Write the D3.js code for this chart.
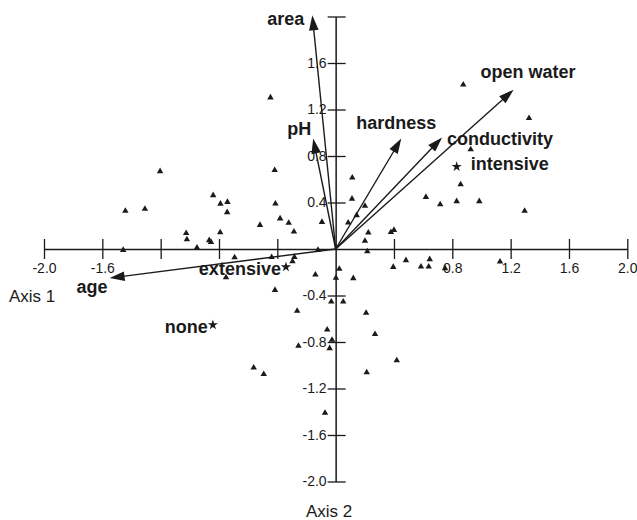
<!DOCTYPE html>
<html>
<head>
<meta charset="utf-8">
<script src="https://cdn.jsdelivr.net/npm/d3@7"></script>
<style>
    body { margin: 0; background: #fff; }
    svg text { font-family: Arial, "Liberation Sans", sans-serif; fill: #1a1a1a; }
</style>
</head>
<body>
<svg id="chart" width="637" height="520"></svg>
<script>
// site scores (axis 1, axis 2)
const siteX = [
    -1.204, -1.442, -1.308, -1.457, -1.025, -1.020, -0.951, -0.867, -0.855, -0.840,
    -0.790, -0.742, -0.744, -0.792, -0.447, -0.418, -0.413, -0.519, -0.381, -0.322,
    -0.286, -0.094, -0.693, -0.439, -0.283, -0.296, -0.121, -0.752, -0.139, 0.002,
    -0.416, -0.030, -0.264, -0.058, -0.025, -0.041, -0.255, -0.562, -0.493, -0.073,
    0.213, 0.419, 0.270, 0.209, 0.052, 0.025, 0.121, 0.395, 0.482, 0.585,
    0.638, 0.645, 0.750, 1.127, 0.217, 0.201, 0.224, 0.379, 0.400, 0.086,
    0.144, 0.201, 0.112, 0.114, 0.619, 0.717, 0.830, 0.857, 0.985, 1.296,
    0.875, 1.326, 0.926
];
const siteY = [
    0.668, 0.328, 0.344, -0.009, 0.136, 0.083, 0.011, 0.075, 0.060, 0.462,
    0.389, 0.404, 0.316, 0.142, 1.303, 0.678, 0.390, 0.206, 0.262, 0.224,
    0.149, 0.232, -0.073, -0.071, -0.069, -0.107, -0.009, -0.245, -0.221, -0.249,
    -0.353, -0.453, -0.533, -0.694, -0.782, -0.854, -0.834, -1.021, -1.077, -1.410,
    -1.062, -0.959, -0.733, -0.550, -0.453, -0.172, -0.252, -0.155, -0.097, -0.152,
    -0.152, -0.089, -0.166, -0.109, -0.021, 0.069, 0.140, 0.144, 0.163, 0.226,
    0.290, 0.370, 0.432, 0.613, 0.447, 0.384, 0.410, 0.556, 0.410, 0.327,
    1.413, 1.126, 0.857
];

// management centroids
const groupNames = ["intensive", "extensive", "none"];
const groupX = [0.830, -0.341, -0.842];
const groupY = [0.708, -0.155, -0.653];

// environmental vectors
const vectorNames = ["area", "pH", "hardness", "conductivity", "open water", "age"];
const vectorX = [-0.16, -0.154, 0.45, 0.73, 1.22, -1.55];
const vectorY = [2.01, 0.95, 0.95, 0.96, 1.37, -0.25];

const xTicks = [-2.0, -1.6, -1.2, -0.8, -0.4, 0.4, 0.8, 1.2, 1.6, 2.0];
const xTickLabels = ["-2.0", "-1.6", "", "", "", "", "0.8", "1.2", "1.6", "2.0"];
const yTicks = [2.0, 1.6, 1.2, 0.8, 0.4, -0.4, -0.8, -1.2, -1.6, -2.0];
const yTickLabels = ["", "1.6", "1.2", "0.8", "0.4", "-0.4", "-0.8", "-1.2", "-1.6", "-2.0"];

const svg = d3.select("#chart");
const ink = "#1a1a1a";

const x = d3.scaleLinear().domain([-2, 2]).range([44, 627.3]);
const y = d3.scaleLinear().domain([-2, 2]).range([481.5, 16.5]);

// label placement in px, relative to the end of each vector
const vectorLabelPos = {
    "area": [-45, 10],
    "pH": [-26, -4],
    "hardness": [-45, -10],
    "conductivity": [5, 8],
    "open water": [-33, -12],
    "age": [-33, 15],
};

// axis 1
const xAxis = svg.append("g")
    .attr("transform", `translate(0,${y(0)})`)
    .call(
        d3.axisBottom(x)
            .tickValues(xTicks)
            .tickFormat((d, i) => xTickLabels[i])
            .tickSizeOuter(0)
    );
xAxis.select(".domain").attr("stroke", ink).attr("stroke-width", 1.5);
xAxis.selectAll(".tick line").attr("y1", -10).attr("y2", 10).attr("stroke", ink).attr("stroke-width", 1.3);
xAxis.selectAll(".tick text")
    .attr("y", 14)
    .style("font-size", "14px")
    .style("font-family", "Arial, 'Liberation Sans', sans-serif")
    .attr("fill", ink);

// axis 2
const yAxis = svg.append("g")
    .attr("transform", `translate(${x(0)},0)`)
    .call(
        d3.axisLeft(y)
            .tickValues(yTicks)
            .tickFormat((d, i) => yTickLabels[i])
            .tickSizeOuter(0)
    );
yAxis.select(".domain").attr("stroke", ink).attr("stroke-width", 1.5);
yAxis.selectAll(".tick line").attr("x1", -8).attr("x2", 10).attr("stroke", ink).attr("stroke-width", 1.3);
yAxis.selectAll(".tick text")
    .attr("x", -9)
    .style("font-size", "14px")
    .style("font-family", "Arial, 'Liberation Sans', sans-serif")
    .attr("fill", ink);

svg.append("text").attr("x", 9).attr("y", 301.5).style("font-size", "17px").text("Axis 1");
svg.append("text").attr("x", 306).attr("y", 516.5).style("font-size", "17px").text("Axis 2");

// sites
svg.append("g")
    .selectAll("path")
    .data(d3.range(siteX.length))
    .join("path")
    .attr("d", d3.symbol(d3.symbolTriangle, 18))
    .attr("transform", (i) => `translate(${x(siteX[i])},${y(siteY[i])})`)
    .attr("fill", ink);

// vectors
const vectors = vectorNames.map((name, i) => ({
    name: name,
    x1: x(0),
    y1: y(0),
    x2: x(vectorX[i]),
    y2: y(vectorY[i]),
}));

const headLen = 15;
const headHalf = 4.8;
const gVec = svg.append("g");

gVec.selectAll("line")
    .data(vectors)
    .join("line")
    .attr("x1", (d) => d.x1)
    .attr("y1", (d) => d.y1)
    .attr("x2", (d) => {
        const len = Math.hypot(d.x2 - d.x1, d.y2 - d.y1);
        return d.x2 - ((d.x2 - d.x1) / len) * (headLen - 2);
    })
    .attr("y2", (d) => {
        const len = Math.hypot(d.x2 - d.x1, d.y2 - d.y1);
        return d.y2 - ((d.y2 - d.y1) / len) * (headLen - 2);
    })
    .attr("stroke", ink)
    .attr("stroke-width", 1.4);

gVec.selectAll("polygon")
    .data(vectors)
    .join("polygon")
    .attr("points", (d) => {
        const len = Math.hypot(d.x2 - d.x1, d.y2 - d.y1);
        const ux = (d.x2 - d.x1) / len;
        const uy = (d.y2 - d.y1) / len;
        const bx = d.x2 - ux * headLen;
        const by = d.y2 - uy * headLen;
        return [
            [d.x2, d.y2],
            [bx - uy * headHalf, by + ux * headHalf],
            [bx + uy * headHalf, by - ux * headHalf],
        ].map((p) => p.join(",")).join(" ");
    })
    .attr("fill", ink);

gVec.selectAll("text")
    .data(vectors)
    .join("text")
    .attr("x", (d) => d.x2 + vectorLabelPos[d.name][0])
    .attr("y", (d) => d.y2 + vectorLabelPos[d.name][1])
    .style("font-size", "18px")
    .style("font-weight", "bold")
    .text((d) => d.name);

// centroids
const gGroups = svg.append("g");
gGroups.selectAll("path")
    .data(groupNames)
    .join("path")
    .attr("d", d3.symbol(d3.symbolStar, 32))
    .attr("transform", (d, i) => `translate(${x(groupX[i])},${y(groupY[i])})`)
    .attr("fill", ink);

gGroups.selectAll("text")
    .data(groupNames)
    .join("text")
    .attr("x", (d, i) => (d === "intensive" ? x(groupX[i]) + 14 : x(groupX[i]) - 5))
    .attr("y", (d, i) => y(groupY[i]) + (d === "intensive" ? 3 : 8))
    .attr("text-anchor", (d) => (d === "intensive" ? "start" : "end"))
    .style("font-size", "18px")
    .style("font-weight", "bold")
    .text((d) => d);
</script>
</body>
</html>
